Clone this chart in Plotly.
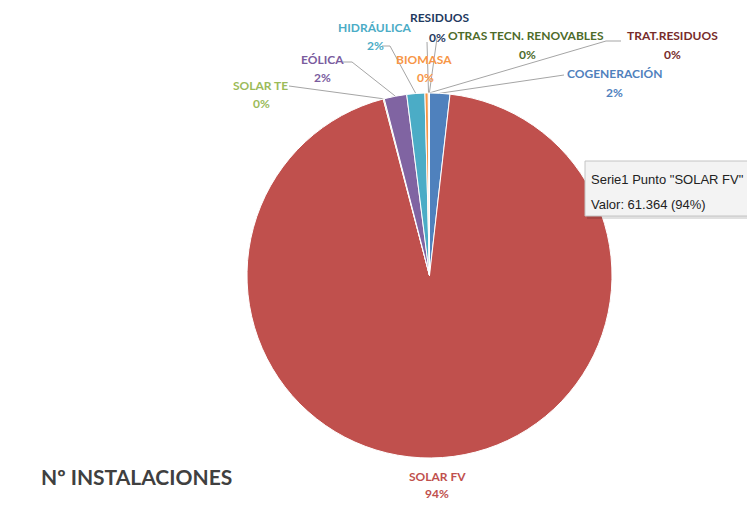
import math
import plotly.graph_objects as go

# Number of installations by technology (clockwise from 12 o'clock)
categories = ["COGENERACIÓN", "SOLAR FV", "SOLAR TE", "EÓLICA", "HIDRÁULICA",
              "BIOMASA", "RESIDUOS", "TRAT.RESIDUOS", "OTRAS TECN. RENOVABLES"]
values = [1170, 61364, 60, 1300, 1040, 190, 30, 25, 15]
colors = ["#4F81BD", "#C0504D", "#9BBB59", "#8064A2", "#4BACC6",
          "#F79646", "#2C4D75", "#772C2A", "#5F7530"]
label_colors = ["#4F81BD", "#C0504D", "#9BBB59", "#7A5C9E", "#4BACC6",
                "#F79646", "#1F3A60", "#772C2A", "#4E6B2A"]

# label centre (name line, percent line) in page pixels
label_pos = {
    "COGENERACIÓN": ((614, 73), (614, 92)),
    "SOLAR FV": ((437, 476), (437, 493)),
    "SOLAR TE": ((260, 85), (261, 103)),
    "EÓLICA": ((322, 59), (322, 77)),
    "HIDRÁULICA": ((374, 27), (375, 45)),
    "BIOMASA": ((424, 59), (425, 77)),
    "RESIDUOS": ((439, 17), (437, 37)),
    "TRAT.RESIDUOS": ((672, 35), (672, 54)),
    "OTRAS TECN. RENOVABLES": ((526, 35), (527, 54)),
}
# leader line anchor points near each label
leader_start = {
    "COGENERACIÓN": [(564, 75)],
    "SOLAR TE": [(289, 86)],
    "EÓLICA": [(343, 62), (352, 62)],
    "HIDRÁULICA": [(382, 46), (390, 46)],
    "RESIDUOS": [(427, 42)],
    "TRAT.RESIDUOS": [(621, 41), (606, 41)],
    "OTRAS TECN. RENOVABLES": [(437, 38)],
}

W, H = 747, 506
CX, CY, R = 429.5, 275.5, 182.5
total = sum(values)
pcts = [int(v / total * 100 + 0.5) for v in values]

fig = go.Figure()
fig.add_trace(go.Pie(
    labels=categories, values=values, sort=False, direction="clockwise",
    rotation=0, marker=dict(colors=colors, line=dict(color="white", width=1)),
    textinfo="none", hoverinfo="skip", showlegend=False,
    domain=dict(x=[(CX - R) / W, (CX + R) / W],
                y=[(H - CY - R) / H, (H - CY + R) / H]),
))

# leader lines from labels to the middle of each slice's outer edge
cum = 0
for name, v in zip(categories, values):
    mid = (cum + v / 2) / total * 2 * math.pi
    cum += v
    if name not in leader_start:
        continue
    ex = CX + R * math.sin(mid)
    ey = CY - R * math.cos(mid)
    pts = leader_start[name] + [(ex, ey)]
    fig.add_trace(go.Scatter(
        x=[p[0] for p in pts], y=[p[1] for p in pts], mode="lines",
        line=dict(color="#A5A5A5", width=1), hoverinfo="skip", showlegend=False,
    ))

annotations = []
for name, p, col in zip(categories, pcts, label_colors):
    (nx, ny), (px, py) = label_pos[name]
    annotations.append(dict(x=nx, y=ny, xref="x", yref="y", text=f"<b>{name}</b>",
                            showarrow=False, font=dict(family="Lato", size=12, color=col)))
    annotations.append(dict(x=px, y=py, xref="x", yref="y", text=f"<b>{p}%</b>",
                            showarrow=False, font=dict(family="Lato", size=12, color=col)))

annotations.append(dict(x=136, y=476, xref="x", yref="y", text="<b>Nº INSTALACIONES</b>",
                        showarrow=False, font=dict(family="Lato", size=21, color="#404040")))

# tooltip for the SOLAR FV point
fv = categories.index("SOLAR FV")
fv_val = f"{values[fv]:,}".replace(",", ".")
annotations.append(dict(x=589, y=179, xref="x", yref="y", xanchor="left",
                        text=f'Serie1 Punto "{categories[fv]}"', showarrow=False,
                        font=dict(family="Liberation Sans", size=13, color="#222222")))
annotations.append(dict(x=589, y=204, xref="x", yref="y", xanchor="left",
                        text=f"Valor: {fv_val} ({pcts[fv]}%)", showarrow=False,
                        font=dict(family="Liberation Sans", size=13, color="#222222")))

shapes = [
    dict(type="rect", xref="x", yref="y", x0=587, y0=163, x1=752, y1=219,
         fillcolor="rgba(0,0,0,0.12)", line=dict(width=0), layer="above"),
    dict(type="rect", xref="x", yref="y", x0=585, y0=161, x1=750, y1=216,
         fillcolor="#F3F3F3", line=dict(color="#C4C4C4", width=1), layer="above"),
]

fig.update_layout(
    width=W, height=H, margin=dict(l=0, r=0, t=0, b=0),
    paper_bgcolor="white", plot_bgcolor="rgba(0,0,0,0)",
    xaxis=dict(range=[0, W], visible=False, fixedrange=True, domain=[0, 1]),
    yaxis=dict(range=[H, 0], visible=False, fixedrange=True, domain=[0, 1]),
    annotations=annotations, shapes=shapes, showlegend=False,
)

fig.write_html("out.html")
